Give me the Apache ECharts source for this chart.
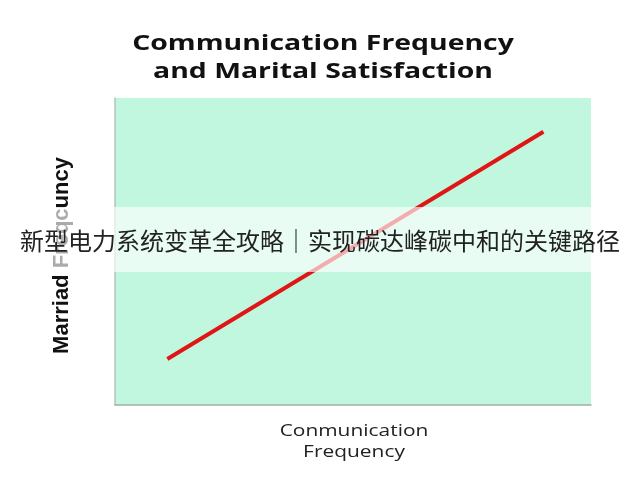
<!DOCTYPE html>
<html><head><meta charset="utf-8">
<script src="https://cdn.jsdelivr.net/npm/echarts@6/dist/echarts.min.js"></script>
<style>html,body{margin:0;padding:0;background:#fff}#c{width:640px;height:480px}</style>
</head><body><div id="c"></div>
<script>
const titleText = "Communication Frequency\nand Marital Satisfaction";
const xAxisName = "Conmunication\nFrequency";
const yAxisName = "Marriad Freqcuncy";
const bannerText = "新型电力系统变革全攻略｜实现碳达峰碳中和的关键路径";
const xValues = [1.1, 9.0];
const yValues = [1.5, 8.9];

const chart = echarts.init(document.getElementById('c'));
chart.setOption({
  backgroundColor: '#ffffff',
  animation: false,
  grid: { left: 115, right: 49, top: 98, bottom: 75, show: true, backgroundColor: '#c1f7de', borderWidth: 0 },
  xAxis: {
    type: 'value', min: 0, max: 10,
    axisLine: { show: true, lineStyle: { color: '#a0b0a8', width: 1.5 } },
    axisTick: { show: false }, axisLabel: { show: false }, splitLine: { show: false }
  },
  yAxis: {
    type: 'value', min: 0, max: 10,
    axisLine: { show: true, lineStyle: { color: '#b0c4ba', width: 1.5 } },
    axisTick: { show: false }, axisLabel: { show: false }, splitLine: { show: false },
    name: yAxisName, nameLocation: 'middle', nameGap: 42, nameRotate: 90,
    nameTextStyle: { fontFamily: 'Liberation Sans', fontWeight: 'bold', fontSize: 22, color: '#111', padding: [0, 0, 0, -8] }
  },
  series: [{
    type: 'line', data: xValues.map((x, i) => [x, yValues[i]]),
    symbol: 'none', lineStyle: { color: '#e01515', width: 4 }
  }],
  graphic: [
    { type: 'text', x: 323, y: 58, scaleX: 1.29, z: 50,
      style: { text: titleText, textAlign: 'center', textVerticalAlign: 'middle',
               font: 'bold 22px "Open Sans"', lineHeight: 28, fill: '#111' } },
    { type: 'text', x: 354, y: 442, scaleX: 1.23, z: 50,
      style: { text: xAxisName, textAlign: 'center', textVerticalAlign: 'middle',
               font: '17px "Open Sans"', lineHeight: 21, fill: '#222' } },
    { type: 'rect', z: 100, shape: { x: 0, y: 207, width: 640, height: 65 }, style: { fill: 'rgba(255,255,255,0.65)' } },
    { type: 'text', z: 101, left: 'center', top: 229,
      style: { text: bannerText, font: '24px "Noto Sans CJK SC"', fill: '#222' } }
  ]
});
</script></body></html>
